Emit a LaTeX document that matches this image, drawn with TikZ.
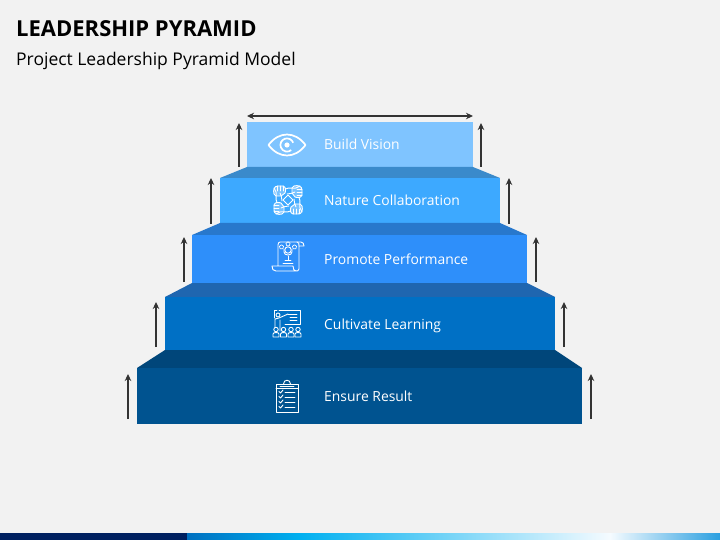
\documentclass[tikz,border=0pt]{standalone}
\usepackage{fontspec}
\setmainfont{Open Sans}
\usetikzlibrary{arrows.meta}
\definecolor{bgc}{HTML}{F2F2F2}
\definecolor{fa}{HTML}{7FC4FF}\definecolor{fb}{HTML}{3DA9FF}\definecolor{fc}{HTML}{2E8FFA}
\definecolor{fd}{HTML}{0070C5}\definecolor{fe}{HTML}{005390}
\definecolor{tb}{HTML}{3A8ACB}\definecolor{tc}{HTML}{2878CC}\definecolor{td}{HTML}{1F66B0}
\definecolor{te}{HTML}{00467A}
\definecolor{navy}{HTML}{002060}\definecolor{arr}{HTML}{333333}
\definecolor{g1}{HTML}{0070C0}\definecolor{g2}{HTML}{00B0F0}\definecolor{g3}{HTML}{F5FBFF}\definecolor{g4}{HTML}{2A9FE0}
\tikzset{
  upar/.style={arr,line width=1.4pt,-{Stealth[length=7pt,width=6.5pt]}},
  wid/.style={arr,line width=1.4pt,{Stealth[length=7pt,width=6.5pt]}-{Stealth[length=7pt,width=6.5pt]}},
  lab/.style={text=white,font=\fontsize{13.9pt}{16pt}\selectfont,anchor=base west,inner sep=0pt},
  ico/.style={draw=white,line width=0.9pt,line join=round,line cap=round},
  icob/.style={draw=white,line width=1.7pt,line join=round}
}
\begin{document}
\begin{tikzpicture}[x=1pt,y=-1pt]
\useasboundingbox (0,0) rectangle (720,540);
\fill[bgc] (0,0) rectangle (720,540);
% bottom bar
\fill[navy] (0,533) rectangle (187,540);
\shade[left color=g1,right color=g2] (187,533) rectangle (300,540);
\shade[left color=g2,right color=g3] (300,533) rectangle (610,540);
\shade[left color=g3,right color=g4] (610,533) rectangle (720,540);
% title
\node[name=title,anchor=base west,inner sep=0pt,text=black,font=\fontsize{22pt}{26pt}\selectfont\bfseries] at (16,37) {LEADERSHIP PYRAMID};
\node[name=subtitle,anchor=base west,inner sep=0pt,text=black,font=\fontsize{17.5pt}{20pt}\selectfont] at (16,66) {Project Leadership Pyramid Model};
% steps
\fill[fa] (247,122) rectangle (473,167);
\fill[tb] (247,167) -- (473,167) -- (500,178) -- (220,178) -- cycle;
\fill[fb] (220,178) rectangle (500,223);
\fill[tc] (220,223) -- (500,223) -- (527,235) -- (192,235) -- cycle;
\fill[fc] (192,235) rectangle (527,283);
\fill[td] (192,283) -- (527,283) -- (555,297) -- (165,297) -- cycle;
\fill[fd] (165,297) rectangle (555,350);
\fill[te] (165,350) -- (555,350) -- (582,368) -- (137,368) -- cycle;
\fill[fe] (137,368) rectangle (582,424);
% arrows
\coordinate (wl) at (247,116); \coordinate (wr) at (473,116);
\draw[wid] (wl) -- (wr);
\foreach \n/\xl/\xr/\ya/\yb in {a/239/481/167/123,b/211/509/224/178,c/184/536/282/237,d/156/564/347/302,e/128/591/419/374}{
  \coordinate (\n l1) at (\xl,\ya); \coordinate (\n l2) at (\xl,\yb);
  \coordinate (\n r1) at (\xr,\ya); \coordinate (\n r2) at (\xr,\yb);
  \draw[upar] (\n l1) -- (\n l2);
  \draw[upar] (\n r1) -- (\n r2);
}
% labels
\node[lab,name=la] at (324,150) {Build Vision};
\node[lab,name=lb] at (324,205.5) {Nature Collaboration};
\node[lab,name=lc] at (324,264.5) {Promote Performance};
\node[lab,name=ld] at (324,329) {Cultivate Learning};
\node[lab,name=le] at (324,401.5) {Ensure Result};
% eye
\begin{scope}[shift={(287,145)}]
\draw[icob] (-18.5,0) .. controls (-8,-14) and (8,-14) .. (18.5,0) .. controls (8,14) and (-8,14) .. (-18.5,0) -- cycle;
\draw[icob] (-20:6.6) arc[start angle=-20,end angle=-310,radius=6.6];
\fill[white] (0,0) circle (2.6);
\end{scope}
% hands
\begin{scope}[shift={(288,200)}]
\draw[ico] (-5,0) -- (0,-5) -- (5,0) -- (0,5) -- cycle;
\foreach \a in {0,90,180,270}{
  \begin{scope}[rotate=\a]
  \draw[ico,fill=white,fill opacity=.3] (-14,-6) .. controls (-15,-10) and (-14,-14) .. (-10,-14) -- (-5,-14) .. controls (-2,-13) and (-2,-10) .. (-3,-7) -- (-7,-4) -- (-12,-4) -- cycle;
  \draw[ico] (-2.5,-11) .. controls (1,-13) and (5,-11) .. (8,-12) -- (12,-14);
  \draw[ico] (-1,-6) .. controls (2,-7) and (5,-6) .. (7,-8);
  \draw[ico] (-11,-14) -- (-11,-9) (-8,-14) -- (-8,-9) (-5,-14) -- (-5,-9);
  \end{scope}
}
\end{scope}
% performance
\begin{scope}[shift={(288,257)}]
\draw[ico] (-10,9) -- (-10,-12) .. controls (-10,-14) and (-9,-15) .. (-8,-15) -- (13,-15) .. controls (15,-15) and (16,-13) .. (16,-11) -- (11,-11) -- (11,12) .. controls (11,14) and (9,14) .. (8,14) -- (-12,14) .. controls (-15,14) and (-16,12) .. (-16,9) -- (5,9) .. controls (5,12) and (6,14) .. (8,14);
\draw[ico] (9,-15) .. controls (11,-15) and (11,-13) .. (11,-11);
\draw[ico] (0,-7) circle (3.2);
\draw[ico] (-4,-5) .. controls (-4,-1) and (4,-1) .. (4,-5) (-4,-8) -- (-4,-5) (4,-8) -- (4,-5);
\draw[ico] (0,-1) -- (0,3) (-3,3.5) -- (3,3.5) (-5,6) -- (5,6);
\foreach \p in {(-6.5,-10),(0,-13),(6.5,-10)}
  \draw[ico,line width=.7pt,shift={\p}] (-90:2.2) -- (-18:2.2) -- (54:2.2) -- (126:2.2) -- (198:2.2) -- cycle;
\end{scope}
% teaching
\begin{scope}[shift={(287,323)}]
\draw[ico] (-8,-13) -- (13,-13) -- (13,1) -- (-2,1);
\draw[ico] (-13,-5) -- (-13,-13) -- (-10,-13);
\draw[ico] (1,-9) -- (10,-9) (3,-6) -- (10,-6) (3,-3) -- (10,-3);
\draw[ico] (-9,-8) circle (2);
\draw[ico] (-12,1) -- (-12,-4) -- (-8,-5) -- (1,-9) (-7,-3) -- (-7,1) (-12,-4) -- (-12,8) (-7,1) -- (-7,8);
\foreach \x in {-11,-3.5,4,11}{
  \draw[ico,fill=fd] (\x,6.5) circle (2.2);
  \draw[ico,fill=fd] (\x-3,14) -- (\x-3,11) .. controls (\x-3,9) and (\x+3,9) .. (\x+3,11) -- (\x+3,14) -- cycle;
}
\end{scope}
% clipboard
\begin{scope}[shift={(287,396)}]
\draw[ico] (-11,-12) rectangle (11,16);
\draw[ico] (-11,-8) -- (11,-8);
\draw[ico] (-3.5,-12) .. controls (-3.5,-17) and (3.5,-17) .. (3.5,-12);
\draw[ico] (-7,-10) -- (7,-10);
\foreach \y in {-4,1,6,11}{
  \draw[ico] (-8,\y-.5) -- (-6.5,\y+1) -- (-4,\y-2);
  \draw[ico] (-2,\y) -- (8,\y);
}
\end{scope}
\end{tikzpicture}
\end{document}
